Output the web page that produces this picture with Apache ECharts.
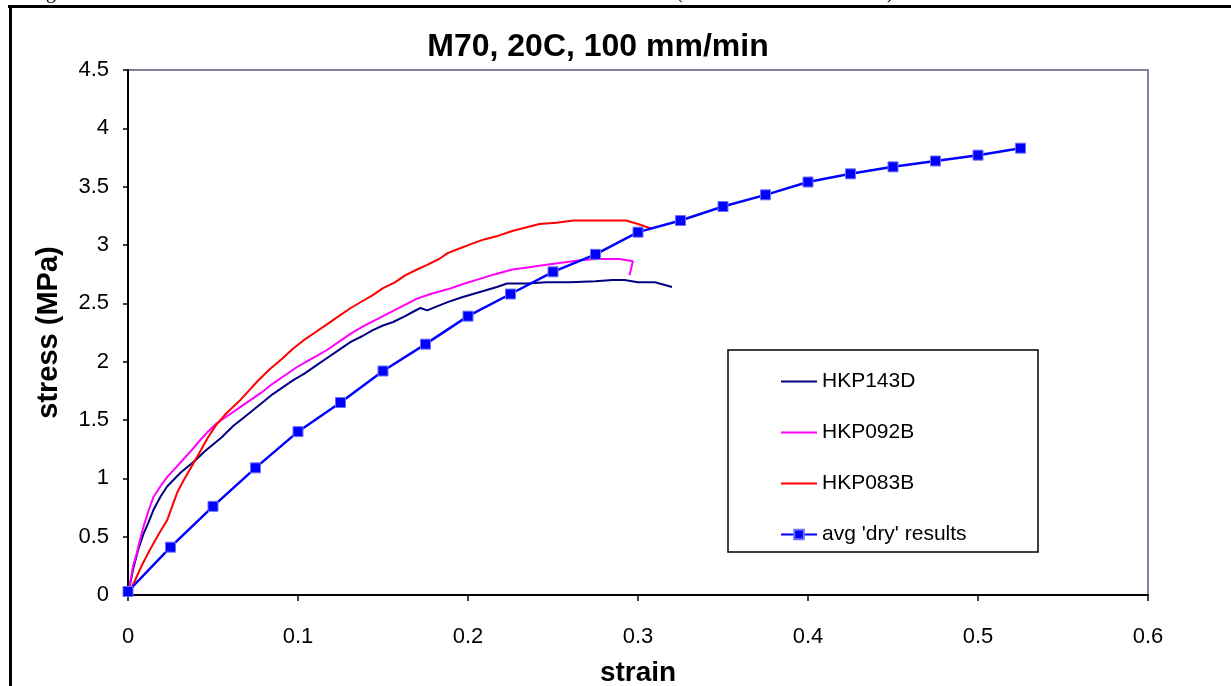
<!DOCTYPE html>
<html>
<head>
    <meta charset="UTF-8">
    <title>M70, 20C, 100 mm/min</title>
    <script src="https://cdn.jsdelivr.net/npm/echarts@6/dist/echarts.min.js"></script>
    <style>
        html, body { margin: 0; padding: 0; background: #fff; }
        #chart { width: 1231px; height: 686px; }
    </style>
</head>
<body>
<div id="chart"></div>
<script>
    // 读图得到的数据 (strain, stress MPa)
    var hkp143dStrain = [0, 0.003, 0.006, 0.009, 0.012, 0.015, 0.019, 0.023, 0.027, 0.031, 0.036, 0.040, 0.045, 0.050, 0.055, 0.062, 0.068, 0.074, 0.080, 0.085, 0.091, 0.097, 0.104, 0.111, 0.118, 0.125, 0.131, 0.138, 0.144, 0.150, 0.156, 0.163, 0.168, 0.172, 0.176, 0.181, 0.188, 0.196, 0.203, 0.210, 0.217, 0.223, 0.235, 0.246, 0.260, 0.275, 0.285, 0.292, 0.300, 0.310, 0.320];
    var hkp143dStress = [0, 0.22, 0.39, 0.52, 0.62, 0.73, 0.84, 0.93, 0.99, 1.05, 1.11, 1.16, 1.23, 1.29, 1.35, 1.45, 1.52, 1.59, 1.66, 1.72, 1.78, 1.84, 1.90, 1.97, 2.04, 2.11, 2.17, 2.22, 2.27, 2.31, 2.34, 2.39, 2.43, 2.46, 2.44, 2.47, 2.51, 2.55, 2.58, 2.61, 2.64, 2.67, 2.67, 2.68, 2.68, 2.69, 2.70, 2.70, 2.68, 2.68, 2.64];

    var hkp092bStrain = [0, 0.003, 0.005, 0.007, 0.009, 0.012, 0.015, 0.019, 0.023, 0.028, 0.033, 0.038, 0.042, 0.047, 0.052, 0.058, 0.066, 0.072, 0.078, 0.085, 0.093, 0.099, 0.105, 0.111, 0.117, 0.124, 0.131, 0.138, 0.146, 0.154, 0.162, 0.170, 0.178, 0.188, 0.198, 0.207, 0.216, 0.226, 0.236, 0.246, 0.256, 0.266, 0.276, 0.289, 0.297, 0.295];
    var hkp092bStress = [0, 0.25, 0.35, 0.47, 0.58, 0.72, 0.84, 0.93, 1.01, 1.09, 1.17, 1.25, 1.32, 1.40, 1.47, 1.53, 1.61, 1.67, 1.73, 1.81, 1.89, 1.95, 2.00, 2.05, 2.10, 2.17, 2.24, 2.30, 2.36, 2.42, 2.48, 2.54, 2.58, 2.62, 2.67, 2.71, 2.75, 2.79, 2.81, 2.83, 2.85, 2.87, 2.88, 2.88, 2.86, 2.74];

    var hkp083bStrain = [0, 0.004, 0.008, 0.013, 0.018, 0.023, 0.026, 0.029, 0.033, 0.037, 0.042, 0.047, 0.052, 0.058, 0.066, 0.071, 0.076, 0.083, 0.091, 0.097, 0.103, 0.110, 0.117, 0.124, 0.131, 0.138, 0.144, 0.150, 0.157, 0.163, 0.170, 0.176, 0.183, 0.188, 0.195, 0.202, 0.210, 0.218, 0.226, 0.234, 0.242, 0.252, 0.262, 0.275, 0.293, 0.300, 0.308];
    var hkp083bStress = [0, 0.12, 0.25, 0.39, 0.52, 0.64, 0.76, 0.88, 0.99, 1.09, 1.22, 1.35, 1.46, 1.56, 1.67, 1.75, 1.83, 1.93, 2.03, 2.11, 2.18, 2.25, 2.32, 2.39, 2.46, 2.52, 2.57, 2.63, 2.68, 2.74, 2.79, 2.83, 2.88, 2.93, 2.97, 3.01, 3.05, 3.08, 3.12, 3.15, 3.18, 3.19, 3.21, 3.21, 3.21, 3.18, 3.14];

    var avgStrain = [0, 0.025, 0.05, 0.075, 0.1, 0.125, 0.15, 0.175, 0.2, 0.225, 0.25, 0.275, 0.3, 0.325, 0.35, 0.375, 0.4, 0.425, 0.45, 0.475, 0.5, 0.525];
    var avgStress = [0.03, 0.41, 0.76, 1.09, 1.40, 1.65, 1.92, 2.15, 2.39, 2.58, 2.77, 2.92, 3.11, 3.21, 3.33, 3.43, 3.54, 3.61, 3.67, 3.72, 3.77, 3.83];

    function pairs(xs, ys) {
        var out = [];
        for (var i = 0; i < xs.length; i++) {
            out.push([xs[i], ys[i]]);
        }
        return out;
    }

    var font = 'Liberation Sans, Arial, sans-serif';
    var chart = echarts.init(document.getElementById('chart'), null, {renderer: 'canvas'});

    var option = {
        backgroundColor: '#ffffff',
        animation: false,
        title: {
            text: 'M70, 20C, 100 mm/min',
            left: 593,
            top: 26,
            textAlign: 'center',
            textStyle: {fontFamily: font, fontSize: 32, fontWeight: 'bold', color: '#000'}
        },
        grid: {
            left: 128, right: 83, top: 70, bottom: 91,
            outerBoundsMode: 'none',
            show: true, borderColor: '#8080a0', borderWidth: 2, backgroundColor: 'transparent'
        },
        legend: {
            orient: 'vertical',
            left: 775,
            top: 366,
            itemWidth: 36,
            itemHeight: 12,
            itemGap: 30,
            textStyle: {fontFamily: font, fontSize: 21, color: '#000'},
            // 前三条只显示线, 不显示圆点
            data: [
                {name: 'HKP143D', itemStyle: {opacity: 0}},
                {name: 'HKP092B', itemStyle: {opacity: 0}},
                {name: 'HKP083B', itemStyle: {opacity: 0}},
                {name: "avg 'dry' results"}
            ]
        },
        xAxis: {
            type: 'value',
            min: 0, max: 0.6, interval: 0.1,
            name: 'strain',
            nameLocation: 'middle',
            nameGap: 64,
            nameTextStyle: {fontFamily: font, fontSize: 28, fontWeight: 'bold', color: '#000'},
            axisLine: {show: true, lineStyle: {color: '#000', width: 2}},
            axisTick: {show: true, length: 6, lineStyle: {color: '#000', width: 1.5}},
            axisLabel: {fontFamily: font, fontSize: 22, color: '#000', margin: 31},
            splitLine: {show: false}
        },
        yAxis: {
            type: 'value',
            min: 0, max: 4.5, interval: 0.5,
            name: 'stress (MPa)',
            nameLocation: 'middle',
            nameGap: 65,
            nameRotate: 90,
            nameTextStyle: {fontFamily: font, fontSize: 29, fontWeight: 'bold', color: '#000'},
            axisLine: {show: true, lineStyle: {color: '#000', width: 2}},
            axisTick: {show: true, length: 5, lineStyle: {color: '#000', width: 1.5}},
            axisLabel: {fontFamily: font, fontSize: 22, color: '#000', margin: 19},
            splitLine: {show: false}
        },
        series: [
            {
                name: 'HKP143D', type: 'line', symbol: 'none',
                lineStyle: {color: '#000080', width: 2}, itemStyle: {color: '#000080'},
                data: pairs(hkp143dStrain, hkp143dStress)
            },
            {
                name: 'HKP092B', type: 'line', symbol: 'none',
                lineStyle: {color: '#ff00ff', width: 2}, itemStyle: {color: '#ff00ff'},
                data: pairs(hkp092bStrain, hkp092bStress)
            },
            {
                name: 'HKP083B', type: 'line', symbol: 'none',
                lineStyle: {color: '#ff0000', width: 2}, itemStyle: {color: '#ff0000'},
                data: pairs(hkp083bStrain, hkp083bStress)
            },
            {
                name: "avg 'dry' results", type: 'line', symbol: 'rect', symbolSize: 10,
                lineStyle: {color: '#0000ff', width: 2.5},
                itemStyle: {color: '#0000ff', borderColor: '#7070ff', borderWidth: 1},
                data: pairs(avgStrain, avgStress)
            }
        ],
        graphic: [
            // 页面边框
            {type: 'rect', shape: {x: 8, y: 5, width: 1223, height: 3}, style: {fill: '#000'}},
            {type: 'rect', shape: {x: 9, y: 5, width: 3, height: 681}, style: {fill: '#000'}},
            // 上方被截断的文字
            {type: 'text', x: 46, y: -17, style: {text: 'g', font: '20px Liberation Serif', fill: '#000'}},
            {type: 'text', x: 676, y: -17, style: {text: '(', font: '20px Liberation Serif', fill: '#000'}},
            {type: 'text', x: 887, y: -17, style: {text: ')', font: '20px Liberation Serif', fill: '#000'}},
            // 图例边框
            {type: 'rect', shape: {x: 728, y: 350, width: 310, height: 202}, style: {fill: 'none', stroke: '#000', lineWidth: 1.5}}
        ]
    };
    chart.setOption(option);
</script>
</body>
</html>
